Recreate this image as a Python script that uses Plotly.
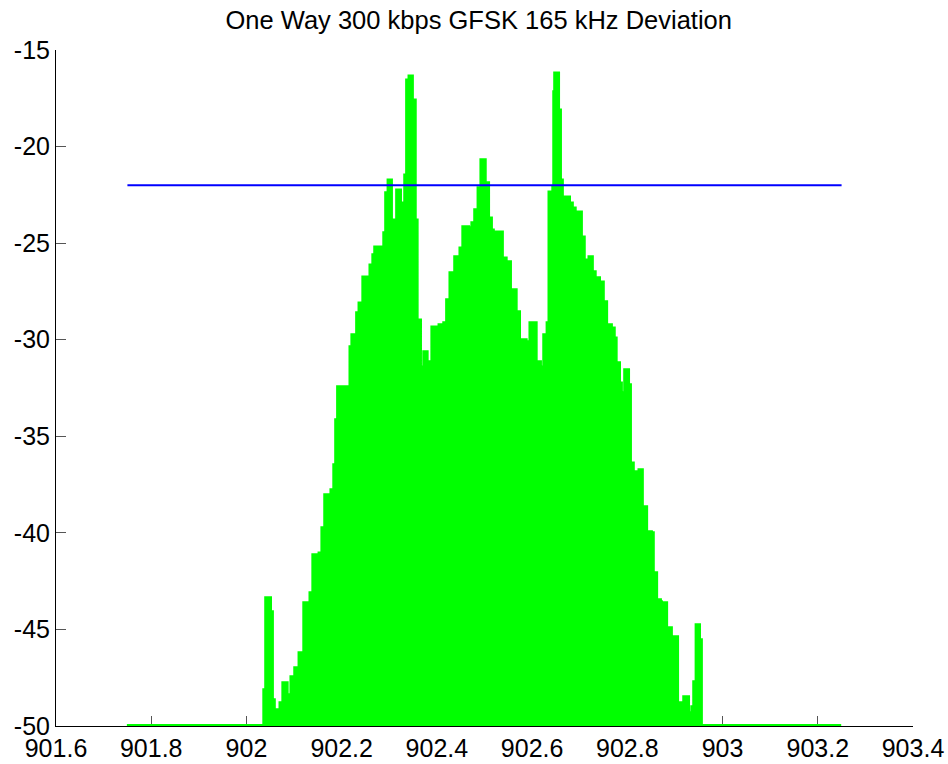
import plotly.graph_objects as go

# Spectrum envelope (frequency in MHz, level in dB)
freq_mhz = [
    901.749, 902.033, 902.037, 902.041, 902.050, 902.054, 902.058, 902.064, 902.071, 902.077,
    902.085, 902.094, 902.102, 902.111, 902.117, 902.121, 902.134, 902.140, 902.146, 902.153,
    902.159, 902.165, 902.178, 902.182, 902.184, 902.188, 902.192, 902.199, 902.203, 902.218,
    902.222, 902.232, 902.237, 902.245, 902.253, 902.260, 902.266, 902.270, 902.279, 902.283,
    902.289, 902.293, 902.298, 902.304, 902.310, 902.316, 902.323, 902.329, 902.333, 902.337,
    902.342, 902.348, 902.354, 902.358, 902.365, 902.369, 902.373, 902.379, 902.390, 902.398,
    902.405, 902.415, 902.421, 902.428, 902.438, 902.449, 902.455, 902.466, 902.474, 902.480,
    902.487, 902.493, 902.501, 902.508, 902.514, 902.518, 902.522, 902.537, 902.545, 902.554,
    902.566, 902.573, 902.587, 902.596, 902.608, 902.617, 902.625, 902.632, 902.636, 902.644,
    902.646, 902.648, 902.655, 902.659, 902.663, 902.669, 902.678, 902.684, 902.690, 902.695,
    902.703, 902.709, 902.716, 902.720, 902.726, 902.732, 902.741, 902.749, 902.756, 902.766,
    902.772, 902.776, 902.783, 902.787, 902.791, 902.795, 902.802, 902.806, 902.812, 902.818,
    902.825, 902.831, 902.840, 902.850, 902.854, 902.861, 902.869, 902.871, 902.875, 902.882,
    902.886, 902.892, 902.898, 902.905, 902.913, 902.919, 902.928, 902.932, 902.936, 902.940,
    902.945, 902.951, 902.955, 903.249,
]
level_db = [
    -50.00, -50.00, -48.14, -43.37, -44.10, -48.65, -49.53, -49.17, -48.81, -47.77,
    -48.40, -47.46, -47.00, -46.22, -46.74, -43.63, -43.12, -41.15, -41.82, -41.05,
    -39.75, -38.04, -37.78, -38.04, -36.49, -34.16, -32.45, -32.76, -32.45, -30.38,
    -29.76, -28.62, -28.11, -26.76, -27.43, -26.14, -25.62, -25.21, -26.24, -25.21,
    -24.48, -22.41, -21.74, -23.96, -23.81, -22.26, -23.45, -22.93, -21.48, -16.56,
    -16.36, -17.60, -23.81, -28.99, -31.42, -32.61, -30.64, -31.16, -29.35, -29.66,
    -29.24, -29.14, -27.95, -26.55, -25.72, -25.26, -24.17, -24.22, -23.96, -23.29,
    -22.15, -20.70, -21.89, -23.71, -24.33, -25.21, -24.43, -25.78, -25.98, -27.43,
    -28.57, -30.02, -30.12, -29.14, -31.16, -31.42, -29.76, -29.14, -22.36, -22.10,
    -17.18, -16.20, -18.12, -21.74, -22.88, -22.62, -22.93, -23.19, -25.21, -23.40,
    -24.69, -25.88, -26.24, -25.72, -26.50, -26.81, -27.02, -28.05, -29.24, -29.40,
    -29.92, -31.21, -32.25, -32.76, -33.64, -31.57, -32.35, -36.39, -37.01, -36.85,
    -36.75, -38.66, -39.96, -40.01, -42.08, -43.48, -43.58, -44.00, -43.63, -46.22,
    -44.93, -46.22, -45.39, -48.81, -48.91, -48.50, -49.33, -49.59, -49.02, -47.72,
    -44.77, -45.55, -50.00, -50.00,
]

floor_db = -50
threshold_db = -22
threshold_span = [901.75, 903.25]

x_ticks = [901.6, 901.8, 902.0, 902.2, 902.4, 902.6, 902.8, 903.0, 903.2, 903.4]
x_tick_labels = ["901.6", "901.8", "902", "902.2", "902.4", "902.6", "902.8", "903", "903.2", "903.4"]
y_ticks = [-50, -45, -40, -35, -30, -25, -20, -15]
y_tick_labels = ["-50", "-45", "-40", "-35", "-30", "-25", "-20", "-15"]

GREEN = "#00ff00"
BLUE = "#0000ff"
FONT = "Liberation Sans, Arial, sans-serif"

fig = go.Figure()
# baseline for the fill
fig.add_trace(go.Scatter(
    x=[freq_mhz[0], freq_mhz[-1]], y=[floor_db, floor_db],
    mode="lines", line=dict(color=GREEN, width=4),
    hoverinfo="skip", showlegend=False,
))
fig.add_trace(go.Scatter(
    x=freq_mhz, y=level_db, mode="lines",
    line=dict(color=GREEN, width=3.5, shape="hv"),
    fill="tonexty", fillcolor=GREEN, showlegend=False,
))
fig.add_trace(go.Scatter(
    x=threshold_span, y=[threshold_db, threshold_db], mode="lines",
    line=dict(color=BLUE, width=2), showlegend=False,
))

axis_common = dict(
    showgrid=False, zeroline=False, showline=True, linecolor="black", linewidth=1,
    ticks="inside", ticklen=10, tickcolor="#555555", tickwidth=1, automargin=False,
    layer="below traces", tickfont=dict(family=FONT, size=25, color="black"),
)

fig.update_layout(
    width=948, height=764,
    margin=dict(l=56, r=35, t=50, b=38, autoexpand=False),
    paper_bgcolor="white", plot_bgcolor="white",
    title=dict(text="One Way 300 kbps GFSK 165 kHz Deviation",
               x=0.505, xanchor="center", y=0.974, yanchor="middle",
               font=dict(family=FONT, size=25.5, color="black")),
    xaxis=dict(range=[901.6, 903.4], tickvals=x_ticks, ticktext=x_tick_labels, **axis_common),
    yaxis=dict(range=[-50, -15], tickvals=y_ticks, ticktext=y_tick_labels, **axis_common),
)

fig.write_html(
    "out.html",
    config={"displayModeBar": False},
    post_script="document.body.style.margin='0';document.body.style.overflow='hidden';",
)
